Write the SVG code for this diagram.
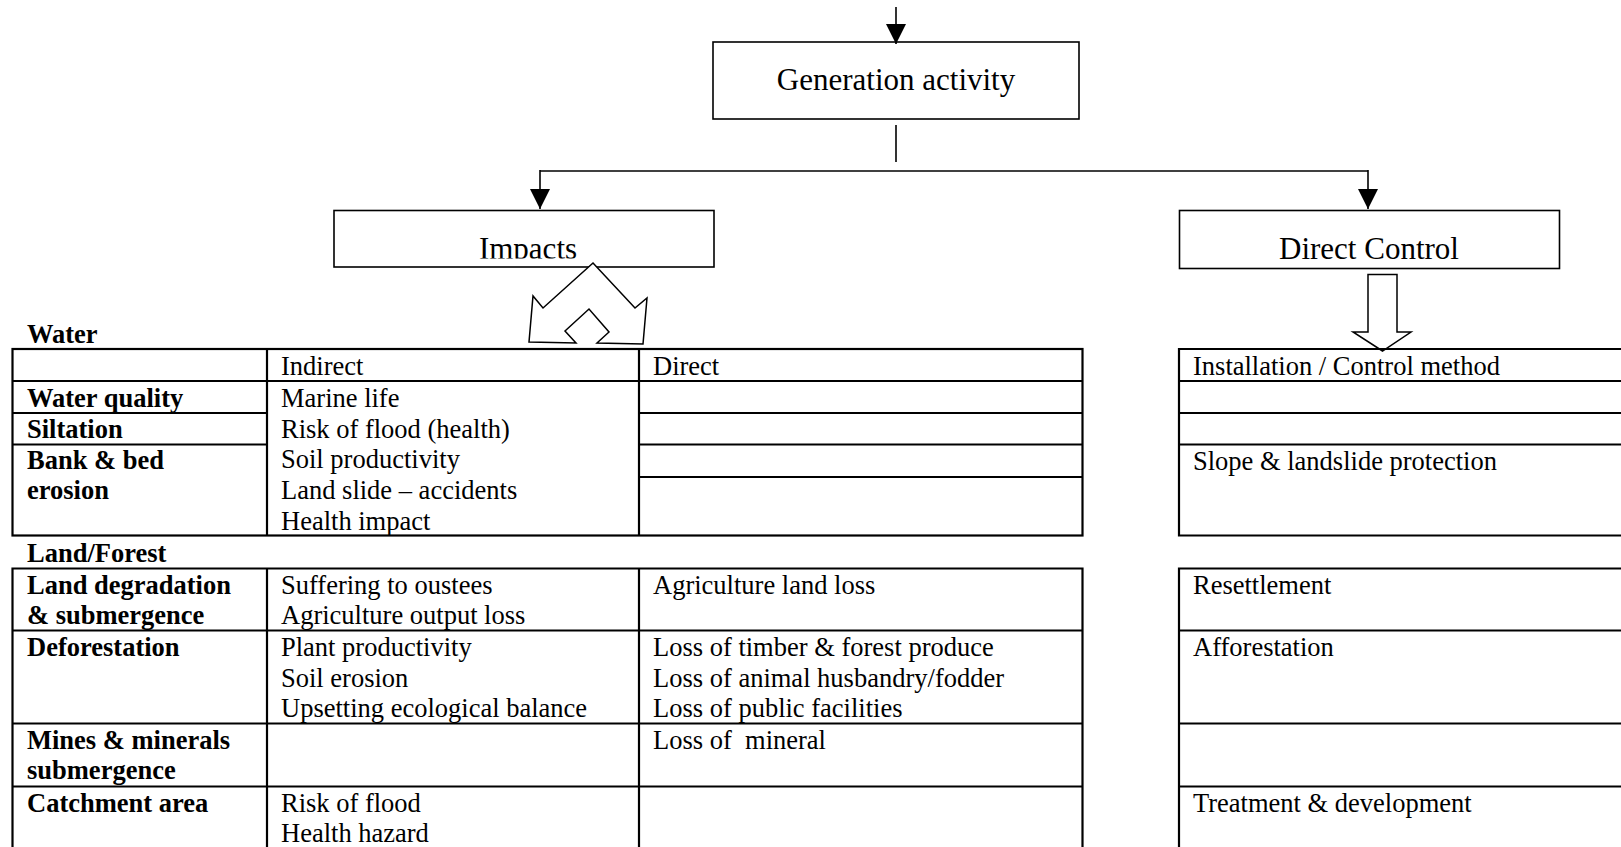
<svg xmlns="http://www.w3.org/2000/svg" width="1621" height="847" viewBox="0 0 1621 847">
  <style>
    .box { fill: #fff; stroke: #000; stroke-width: 1.6; }
    .wire { fill: none; stroke: #000; stroke-width: 1.6; }
    .grid { fill: none; stroke: #000; stroke-width: 2.2; }
    .block { fill: #fff; stroke: #000; stroke-width: 1.5; stroke-linejoin: miter; }
    .title { font-family: "Liberation Serif", "Times New Roman", serif; font-size: 31px; fill: #000; text-anchor: middle; }
    .cell { font-family: "Liberation Serif", "Times New Roman", serif; font-size: 26.5px; fill: #000; }
    .head { font-family: "Liberation Serif", "Times New Roman", serif; font-size: 26.5px; font-weight: bold; fill: #000; }
  </style>
  <defs>
    <marker id="arrow" viewBox="0 0 20 20" refX="20" refY="10" markerWidth="20" markerHeight="20" markerUnits="userSpaceOnUse" orient="auto">
      <path d="M0,0 L20,10 L0,20 Z" fill="#000"/>
    </marker>
    <clipPath id="impacts-clip">
      <rect x="334" y="211" width="380" height="47.5"/>
    </clipPath>
  </defs>
  <rect width="1621" height="847" fill="#fff"/>

  <!-- flow boxes -->
  <g id="node-generation">
    <rect class="box" x="713" y="42" width="366" height="77"/>
    <text class="title" x="896" y="89.5">Generation activity</text>
  </g>
  <g id="node-impacts">
    <rect class="box" x="334" y="210.5" width="380" height="56.5"/>
    <text class="title" x="528" y="258.5" clip-path="url(#impacts-clip)">Impacts</text>
  </g>
  <g id="node-direct-control">
    <rect class="box" x="1179.5" y="210.5" width="380" height="58"/>
    <text class="title" x="1369" y="258.5">Direct Control</text>
  </g>

  <!-- connectors -->
  <g id="connectors">
    <line class="wire" x1="896" y1="7" x2="896" y2="44" marker-end="url(#arrow)"/>
    <line class="wire" x1="896" y1="125" x2="896" y2="162"/>
    <line class="wire" x1="540" y1="171" x2="1368" y2="171"/>
    <line class="wire" x1="540" y1="170" x2="540" y2="209" marker-end="url(#arrow)"/>
    <line class="wire" x1="1368" y1="170" x2="1368" y2="209" marker-end="url(#arrow)"/>
    <!-- split block arrow under Impacts -->
    <polygon class="block" points="593,263 635,308 647,298 643,344 597,343 609,332 589,309 565,331 576,343 529,342 533,296 543,308"/>
    <!-- block arrow under Direct Control -->
    <polygon class="block" points="1368,274.5 1397,274.5 1397,332 1411,332 1382.5,351 1353,332 1368,332"/>
  </g>

  <!-- Water table -->
  <g id="water-table">
    <text class="head" x="27" y="342.5">Water</text>
    <rect class="grid" x="12.5" y="349" width="1070" height="186.5"/>
    <line class="grid" x1="267" y1="349" x2="267" y2="535.5"/>
    <line class="grid" x1="639" y1="349" x2="639" y2="535.5"/>
    <line class="grid" x1="12.5" y1="381" x2="1082.5" y2="381"/>
    <line class="grid" x1="12.5" y1="413" x2="267" y2="413"/>
    <line class="grid" x1="12.5" y1="444.5" x2="267" y2="444.5"/>
    <line class="grid" x1="639" y1="413" x2="1082.5" y2="413"/>
    <line class="grid" x1="639" y1="444.5" x2="1082.5" y2="444.5"/>
    <line class="grid" x1="639" y1="477" x2="1082.5" y2="477"/>

    <text class="cell" x="281" y="374.5">Indirect</text>
    <text class="cell" x="653" y="374.5">Direct</text>

    <text class="head" x="27" y="406.5">Water quality</text>
    <text class="head" x="27" y="437.5">Siltation</text>
    <text class="head" x="27" y="468.5">Bank &amp; bed</text>
    <text class="head" x="27" y="499">erosion</text>

    <text class="cell" x="281" y="406.5">Marine life</text>
    <text class="cell" x="281" y="437.5">Risk of flood (health)</text>
    <text class="cell" x="281" y="468">Soil productivity</text>
    <text class="cell" x="281" y="499">Land slide – accidents</text>
    <text class="cell" x="281" y="529.5">Health impact</text>
  </g>

  <!-- Land/Forest table -->
  <g id="land-table">
    <text class="head" x="27" y="561.5">Land/Forest</text>
    <polyline class="grid" points="12.5,850 12.5,568.5 1082.5,568.5 1082.5,850"/>
    <line class="grid" x1="267" y1="568.5" x2="267" y2="850"/>
    <line class="grid" x1="639" y1="568.5" x2="639" y2="850"/>
    <line class="grid" x1="12.5" y1="630.5" x2="1082.5" y2="630.5"/>
    <line class="grid" x1="12.5" y1="723.5" x2="1082.5" y2="723.5"/>
    <line class="grid" x1="12.5" y1="786.5" x2="1082.5" y2="786.5"/>

    <text class="head" x="27" y="593.5">Land degradation</text>
    <text class="head" x="27" y="624">&amp; submergence</text>
    <text class="head" x="27" y="655.5">Deforestation</text>
    <text class="head" x="27" y="748.5">Mines &amp; minerals</text>
    <text class="head" x="27" y="779">submergence</text>
    <text class="head" x="27" y="811.5">Catchment area</text>

    <text class="cell" x="281" y="593.5">Suffering to oustees</text>
    <text class="cell" x="281" y="624">Agriculture output loss</text>
    <text class="cell" x="281" y="655.5">Plant productivity</text>
    <text class="cell" x="281" y="686.5">Soil erosion</text>
    <text class="cell" x="281" y="717">Upsetting ecological balance</text>
    <text class="cell" x="281" y="811.5">Risk of flood</text>
    <text class="cell" x="281" y="842">Health hazard</text>

    <text class="cell" x="653" y="593.5">Agriculture land loss</text>
    <text class="cell" x="653" y="655.5">Loss of timber &amp; forest produce</text>
    <text class="cell" x="653" y="686.5">Loss of animal husbandry/fodder</text>
    <text class="cell" x="653" y="717">Loss of public facilities</text>
    <text class="cell" x="653" y="748.5" xml:space="preserve">Loss of  mineral</text>
  </g>

  <!-- Control method tables -->
  <g id="control-table-water">
    <polyline class="grid" points="1625,349 1179,349 1179,535.5 1625,535.5"/>
    <line class="grid" x1="1179" y1="381" x2="1625" y2="381"/>
    <line class="grid" x1="1179" y1="413" x2="1625" y2="413"/>
    <line class="grid" x1="1179" y1="444.5" x2="1625" y2="444.5"/>
    <text class="cell" x="1193" y="374.5">Installation / Control method</text>
    <text class="cell" x="1193" y="470">Slope &amp; landslide protection</text>
  </g>
  <g id="control-table-land">
    <polyline class="grid" points="1179,850 1179,568.5 1625,568.5"/>
    <line class="grid" x1="1179" y1="630.5" x2="1625" y2="630.5"/>
    <line class="grid" x1="1179" y1="723.5" x2="1625" y2="723.5"/>
    <line class="grid" x1="1179" y1="786.5" x2="1625" y2="786.5"/>
    <text class="cell" x="1193" y="593.5">Resettlement</text>
    <text class="cell" x="1193" y="655.5">Afforestation</text>
    <text class="cell" x="1193" y="811.5">Treatment &amp; development</text>
  </g>
</svg>
